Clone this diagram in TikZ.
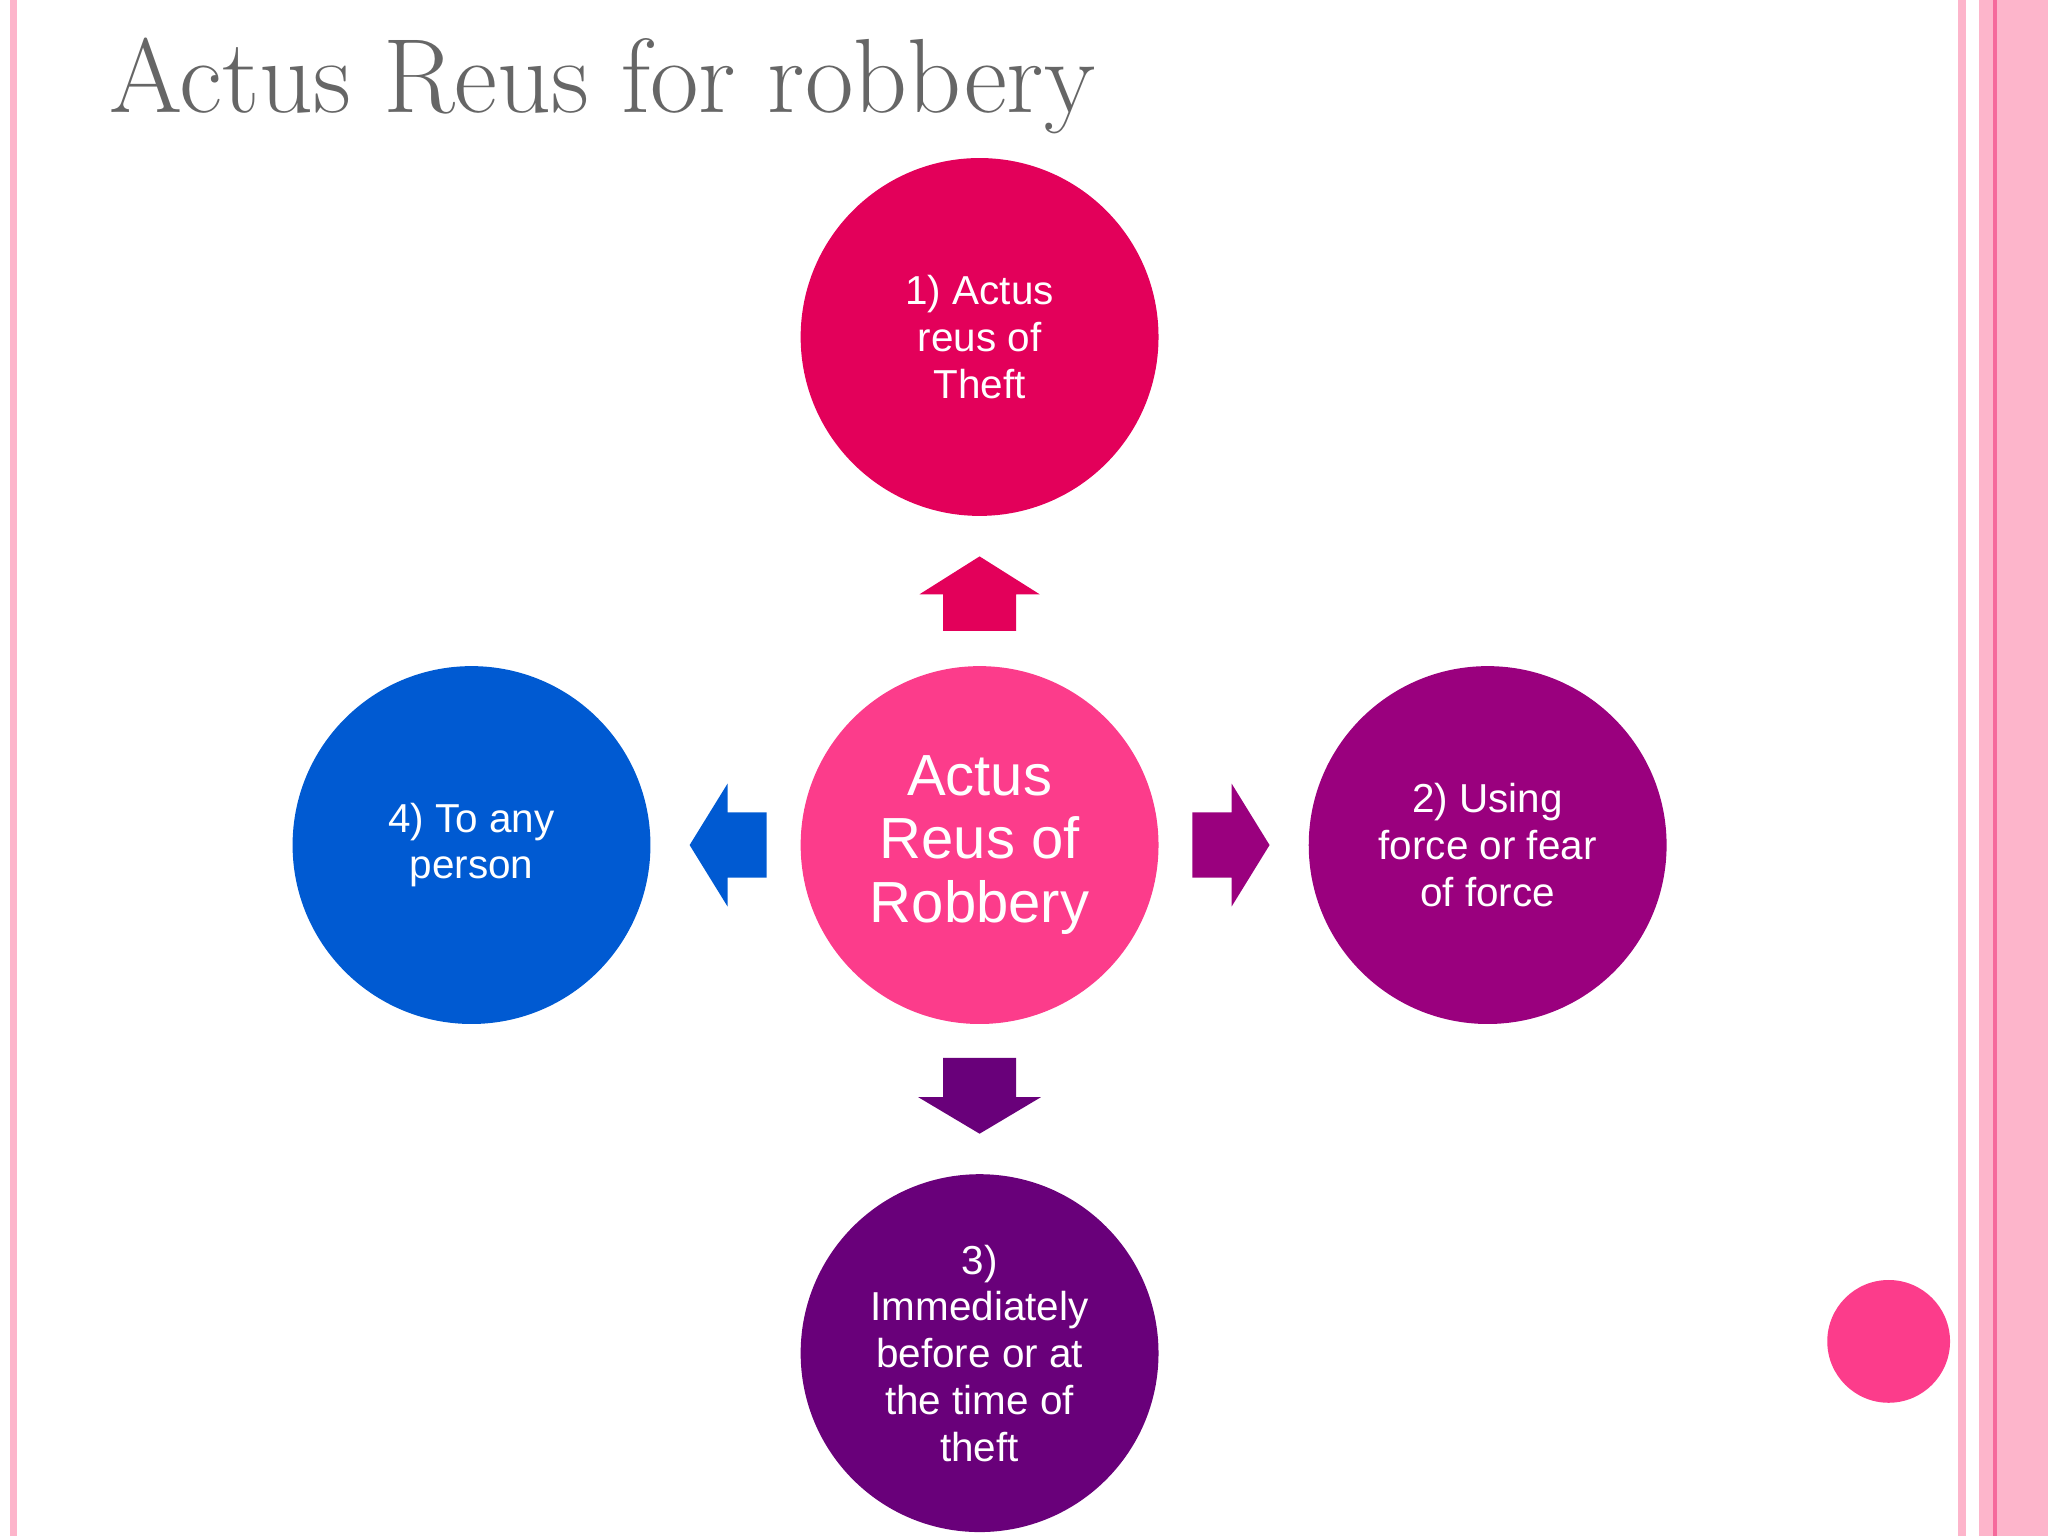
\documentclass[tikz,border=0pt]{standalone}
\usepackage{fontspec}
\setmainfont{Liberation Sans}
\newfontfamily\titlefont{Latin Modern Roman}
\begin{document}
\begin{tikzpicture}[x=0.013061cm,y=-0.013061cm,
  circ/.style={circle,minimum size=274\pgflinewidth,inner sep=0pt,text=white,align=center,font=\fontsize{11.5}{13.3}\selectfont},
]
\definecolor{ctop}{HTML}{E3005A}
\definecolor{cmid}{HTML}{FC3C8B}
\definecolor{cright}{HTML}{9A007E}
\definecolor{cleft}{HTML}{005AD2}
\definecolor{cbot}{HTML}{69007A}
\definecolor{pinkl}{HTML}{FDB5CB}
\definecolor{pinkd}{HTML}{F56A9C}
\useasboundingbox (0,0) rectangle (1568,1176);
% borders
\fill[pinkl] (8,0) rectangle (13,1176);
\fill[pinkl] (1499,0) rectangle (1505,1176);
\fill[pinkl] (1515,0) rectangle (1568,1176);
\fill[pinkd] (1526,0) rectangle (1529,1176);
% title
\node[anchor=west,text=black!60,font=\titlefont\fontsize{30}{34}\selectfont] (title) at (74,66) {\textsc{Actus Reus for robbery}};
% circles
\fill[ctop] (750,258) circle (137);
\fill[cmid] (750,647) circle (137);
\fill[cright] (1139,647) circle (137);
\fill[cleft] (361,647) circle (137);
\fill[cbot] (750,1036) circle (137);
\fill[cmid] (1446,1027) circle (47);
\node[text=white,align=center,font=\fontsize{11.5}{13.3}\selectfont] (n1) at (750,258) {1) Actus\\reus of\\Theft};
\node[text=white,align=center,font=\fontsize{16.5}{18}\selectfont] (c) at (750,647) {Actus\\Reus of\\Robbery};
\node[text=white,align=center,font=\fontsize{11.5}{13.3}\selectfont] (n2) at (1139,647) {2) Using\\force or fear\\of force};
\node[text=white,align=center,font=\fontsize{11.5}{13.3}\selectfont] (n4) at (361,647) {4) To any\\person};
\node[text=white,align=center,font=\fontsize{11.5}{13.3}\selectfont] (n3) at (750,1036) {3)\\Immediately\\before or at\\the time of\\theft};
% arrows
\fill[ctop] (722,483) -- (722,455) -- (704,455) -- (750,426) -- (796,455) -- (778,455) -- (778,483) -- cycle;
\fill[cright] (913,622) -- (943,622) -- (943,600) -- (972,647) -- (943,694) -- (943,672) -- (913,672) -- cycle;
\fill[cleft] (587,622) -- (557,622) -- (557,600) -- (528,647) -- (557,694) -- (557,672) -- (587,672) -- cycle;
\fill[cbot] (722,810) -- (778,810) -- (778,840) -- (797,840) -- (750,868) -- (703,840) -- (722,840) -- cycle;
\end{tikzpicture}
\end{document}
